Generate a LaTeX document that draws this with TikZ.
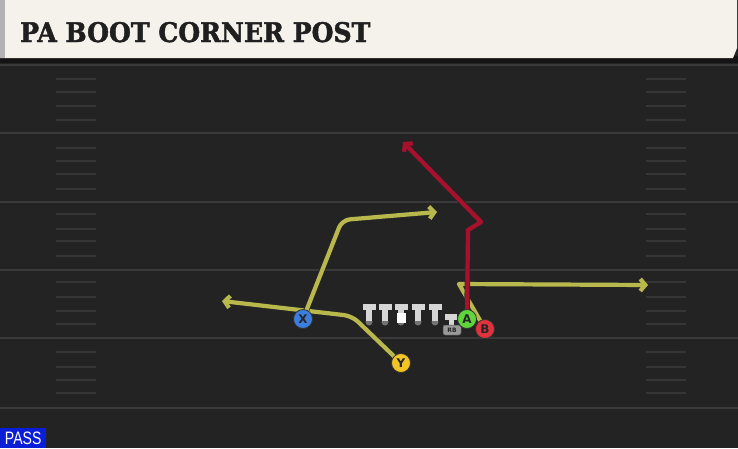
\documentclass[tikz,border=0pt]{standalone}
\usepackage{fontspec}
\setmainfont{DejaVu Serif}
\newfontfamily\titlefont[FakeStretch=0.93,BoldFeatures={FakeBold=1.6}]{DejaVu Serif}
\newfontfamily\playfont{DejaVu Sans}
\newfontfamily\tagfont[FakeStretch=0.78]{Liberation Sans}
\usetikzlibrary{arrows.meta}
\definecolor{turf}{HTML}{232323}
\definecolor{header}{HTML}{F4F2EB}
\definecolor{yardline}{HTML}{3A3A3A}
\definecolor{hash}{HTML}{363636}
\definecolor{olive}{HTML}{B8B84C}
\definecolor{postred}{HTML}{A8102C}
\definecolor{xblue}{HTML}{3C7EE0}
\definecolor{ygold}{HTML}{F2C526}
\definecolor{agreen}{HTML}{5ED53A}
\definecolor{bred}{HTML}{E2323E}
\definecolor{lineman}{HTML}{D6D6D6}
\definecolor{passblue}{HTML}{0A1ED8}
\pgfdeclarelayer{field}
\pgfdeclarelayer{routes}
\pgfsetlayers{field,routes,main}

\begin{document}
\begin{tikzpicture}[x=1pt,y=-1pt,
  player/.style={circle,draw=black!80,line width=0.8pt,minimum size=19pt,inner sep=0pt,font=\playfont\bfseries\fontsize{12}{12}\selectfont,text=black!85},
  route/.style={line width=4.2pt,line join=round,preaction={draw=black!85,line width=5.6pt}},
  tip/.style={-{Straight Barb[length=5pt,width=12pt]}}]
\useasboundingbox (0,0) rectangle (738,448);
\begin{pgfonlayer}{field}
  % Terrain
  \fill[turf] (0,0) rectangle (738,448);
  \fill[black!92] (0,56) rectangle (738,63);
  \fill[header] (0,0) -- (737,0) -- (737,48) -- (733,58) -- (0,58) -- cycle;
  \fill[black!30] (0,0) rectangle (5,58);
  \node[anchor=base west,inner sep=0pt,text=black!88,font=\titlefont\bfseries\fontsize{27}{27}\selectfont] (title) at (20,42) {PA BOOT CORNER POST};
  % Lignes de yards
  \foreach \y in {65,133,202,270,338,408}
    \draw[yardline,line width=2pt] (0,\y) -- (738,\y);
  % Hash marks
  \foreach \y in {79,92,106,120,148,161,174,189,214,229,241,256,282,297,311,324,352,367,380,393}{
    \draw[hash,line width=1.5pt] (56,\y) -- (96,\y);
    \draw[hash,line width=1.5pt] (646,\y) -- (686,\y);
  }
\end{pgfonlayer}
  % Ligne offensive
  \foreach \x in {369,385,401,418,435}{
    \fill[black!55] (\x,322) circle (3.5pt);
    \fill[lineman] (\x-6.5,303.5) rectangle (\x+6.5,310);
    \fill[lineman] (\x-3,309) rectangle (\x+3,321);
  }
  \fill[white] (396.5,313) rectangle (405.5,323);
  % RB
  \fill[lineman] (445,314) rectangle (457,319.5);
  \fill[lineman] (448.5,319) rectangle (453.5,326);
  \node[draw=black!70,fill=black!40,rounded corners=2pt,line width=0.5pt,minimum width=18pt,minimum height=10pt,inner sep=0pt,font=\playfont\bfseries\fontsize{6}{6}\selectfont,text=black!85] (rb) at (452,330) {RB};
  % Joueurs
  \node[player,fill=xblue] (X) at (303,319) {X};
  \node[player,fill=ygold] (Y) at (401,363) {Y};
  \node[player,fill=agreen] (A) at (467,319) {A};
  \node[player,fill=bred] (B) at (485,329) {B};
  % Routes
  \coordinate (xbreak) at (342,220);
  \coordinate (xend) at (437,212);
  \coordinate (ybreak) at (352,316);
  \coordinate (yend) at (222,301);
  \coordinate (aup) at (468,230);
  \coordinate (ajab) at (481,222);
  \coordinate (aend) at (403,142);
  \coordinate (bbreak) at (459,284);
  \coordinate (bend) at (648,285);
\begin{pgfonlayer}{routes}
  \draw[route,olive,tip,rounded corners=8pt] (Y.center) -- (ybreak) -- (yend);
  \draw[route,olive,tip,rounded corners=8pt] (X.center) -- (xbreak) -- (xend);
  \draw[route,olive,tip] (B.center) -- (bbreak) -- (bend);
  \draw[route,postred,tip] (A.center) -- (aup) -- (ajab) -- (aend);
\end{pgfonlayer}
  % Etiquette
  \node[anchor=south west,fill=passblue,text=white,inner xsep=2pt,inner ysep=3pt,minimum width=46pt,minimum height=20pt,font=\tagfont\fontsize{18}{18}\selectfont] (pass) at (0,448) {PASS};
\end{tikzpicture}
\end{document}
